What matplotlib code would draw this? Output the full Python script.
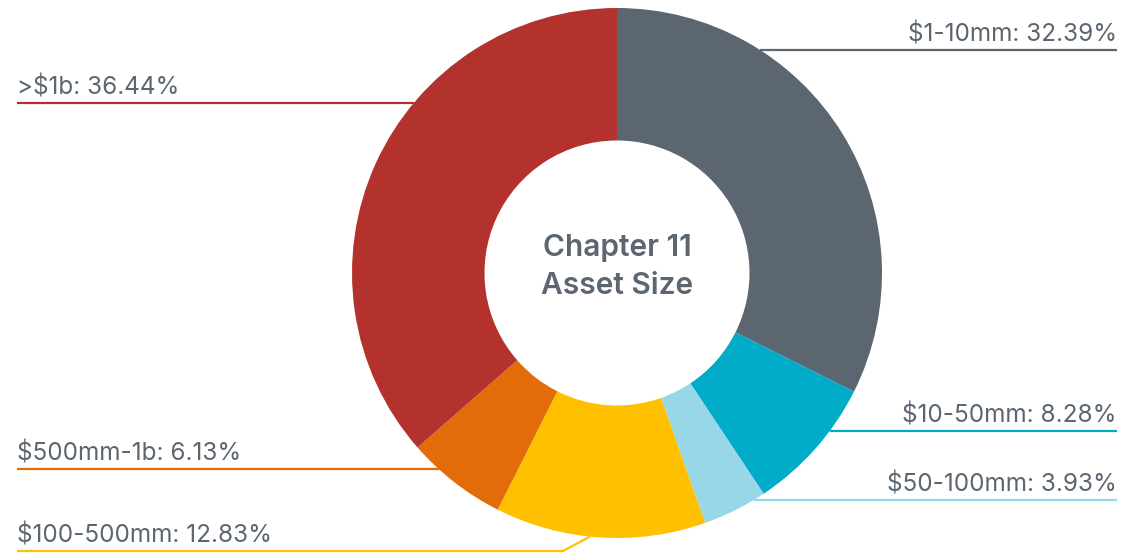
import numpy as np
import matplotlib
matplotlib.use("Agg")
import matplotlib.pyplot as plt

# --- data (clockwise from 12 o'clock) ---
categories = ["$1-10mm", "$10-50mm", "$50-100mm", "$100-500mm", "$500mm-1b", ">$1b"]
shares = [32.39, 8.28, 3.93, 12.83, 6.13, 36.44]
colors = ["#5b6670", "#00acc8", "#98d7e7", "#ffc000", "#e36c0a", "#b3322d"]

# label rows (pixel y from top) and side
label_y = [50, 431, 500, 551, 469, 103]
label_side = ["right", "right", "right", "left", "left", "left"]

W, H = 1140, 553
cx, cy, R = 617, H - 273, 265
text_color = "#5b6670"

plt.rcParams["font.family"] = ["Inter", "DejaVu Sans"]

fig = plt.figure(figsize=(W / 100, H / 100), dpi=100)
ax = fig.add_axes([0, 0, 1, 1])

wedges, _ = ax.pie(
    shares,
    colors=colors,
    startangle=90,
    counterclock=False,
    center=(cx, cy),
    radius=R,
    wedgeprops=dict(width=R * 0.5, linewidth=0),
    frame=True,
)
ax.set_xlim(0, W)
ax.set_ylim(0, H)
ax.set_aspect("equal")
ax.axis("off")

for w, name, val, col, ypix, side in zip(wedges, categories, shares, colors, label_y, label_side):
    y = H - ypix
    dy = y - cy
    lab = f"{name}: {val:.2f}%"
    if abs(dy) < R:
        dx = np.sqrt(R**2 - dy**2)
        xs = cx + dx if side == "right" else cx - dx
        pts_x, pts_y = [xs], [y]
    else:
        # leader from the wedge edge down to the row
        mid = np.deg2rad((w.theta1 + w.theta2) / 2)
        ex, ey = cx + R * np.cos(mid), cy + R * np.sin(mid)
        ex -= 10
        pts_x, pts_y = [ex, ex - 27], [ey + 1, y]
    if side == "right":
        xe, ha = 1117, "right"
    else:
        xe, ha = 17, "left"
    ax.plot(pts_x + [xe], pts_y + [y], color=col, lw=1.6, solid_capstyle="butt")
    ax.text(xe, y + 3.5, lab, ha=ha, va="bottom", fontsize=17.5, color=text_color)

ax.text(cx, cy + 6, "Chapter 11\nAsset Size", ha="center", va="center", fontsize=21.5,
        fontweight="semibold", color=text_color, linespacing=1.5)

fig.savefig("out.png", dpi=100)
